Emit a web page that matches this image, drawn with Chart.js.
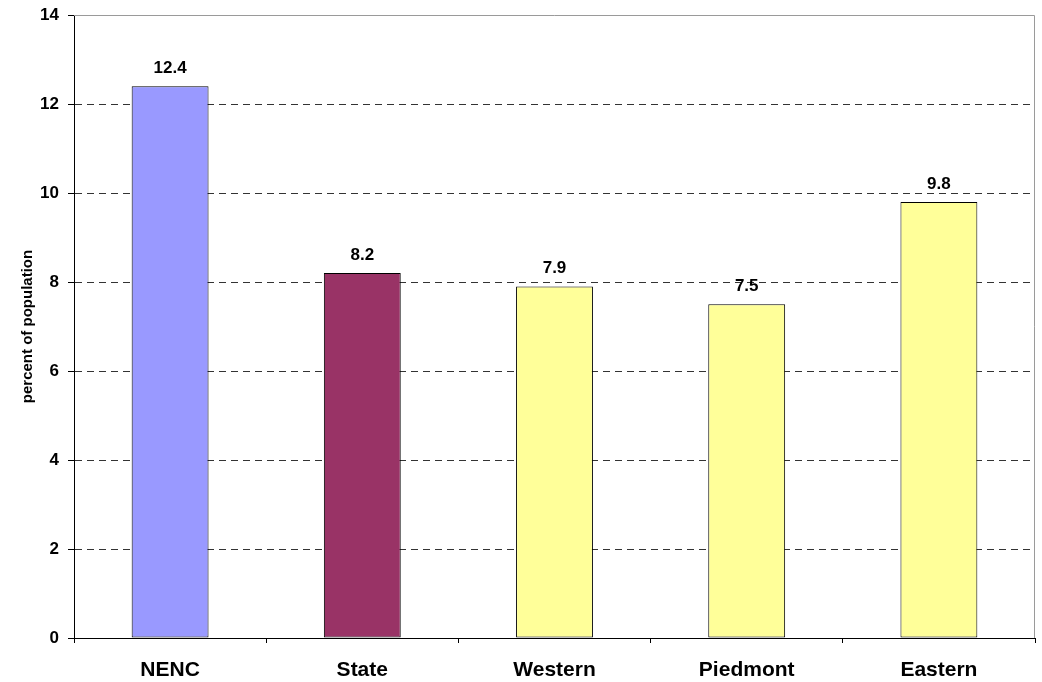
<!DOCTYPE html>
<html>
<head>
<meta charset="utf-8">
<script src="https://cdn.jsdelivr.net/npm/chart.js@4/dist/chart.umd.min.js"></script>
<style>
html,body{margin:0;padding:0;background:#fff;}
#wrap{width:1042px;height:682px;position:relative;}
</style>
</head>
<body>
<div id="wrap"><canvas id="c" width="1042" height="682"></canvas></div>
<script>
const categories = ["NENC", "State", "Western", "Piedmont", "Eastern"];
const values = [12.4, 8.2, 7.9, 7.5, 9.8];
const barColors = ["#9999FF", "#993366", "#FFFF99", "#FFFF99", "#FFFF99"];
const yTicks = [0, 2, 4, 6, 8, 10, 12, 14];
const yTitle = "percent of population";

const FONT = "'Liberation Sans', Arial, sans-serif";

const frame = {
  id: 'frame',
  afterDatasetsDraw(chart) {
    const {ctx, chartArea: a} = chart;
    ctx.save();
    ctx.strokeStyle = '#9a9a9a';
    ctx.lineWidth = 1;
    ctx.beginPath();
    ctx.moveTo(a.left, a.top + 0.5);
    ctx.lineTo(a.right - 0.5, a.top + 0.5);
    ctx.lineTo(a.right - 0.5, a.bottom);
    ctx.stroke();
    ctx.restore();
  }
};

const labels = {
  id: 'labels',
  afterDatasetsDraw(chart) {
    const {ctx} = chart;
    const meta = chart.getDatasetMeta(0);
    ctx.save();
    ctx.font = "bold 17px " + FONT;
    ctx.fillStyle = '#000';
    ctx.textAlign = 'center';
    ctx.textBaseline = 'middle';
    meta.data.forEach((bar, i) => {
      ctx.fillText(values[i].toFixed(1), bar.x, bar.y - 18);
    });
    ctx.restore();
  }
};

new Chart(document.getElementById('c'), {
  type: 'bar',
  data: {
    labels: categories,
    datasets: [{
      data: values,
      backgroundColor: barColors,
      borderColor: '#000',
      borderWidth: 1,
      borderSkipped: false,
      categoryPercentage: 1.0,
      barPercentage: 0.4
    }]
  },
  options: {
    responsive: false,
    animation: false,
    devicePixelRatio: 1,
    layout: {padding: {top: 15, right: 7, left: 0, bottom: 0}},
    plugins: {legend: {display: false}, tooltip: {enabled: false}},
    scales: {
      x: {
        grid: {display: true, offset: true, drawOnChartArea: false, drawTicks: true, tickLength: 5, color: '#000'},
        border: {display: true, color: '#000', width: 1},
        ticks: {font: {family: FONT, size: 21, weight: 'bold'}, color: '#000', padding: 15},
        afterFit(s) { s.height = 44; s.paddingLeft = 0; s.paddingRight = 0; }
      },
      y: {
        min: 0, max: 14,
        afterBuildTicks(s) { s.ticks = yTicks.map(v => ({value: v})); },
        grid: {
          color: (c) => (c.tick && (c.tick.value === 0 || c.tick.value === 14)) ? 'rgba(0,0,0,0)' : '#333',
          tickColor: '#000',
          tickLength: 6,
          lineWidth: 1
        },
        border: {display: true, color: '#000', width: 1, dash: [7, 5]},
        ticks: {font: {family: FONT, size: 17, weight: 'bold'}, color: '#000', padding: 9},
        title: {display: true, text: yTitle, font: {family: FONT, size: 15, weight: 'bold'}, color: '#000', padding: {top: 19, bottom: 0}},
        afterFit(s) { s.width = 74; s.paddingTop = 0; s.paddingBottom = 0; }
      }
    }
  },
  plugins: [frame, labels]
});
</script>
</body>
</html>
